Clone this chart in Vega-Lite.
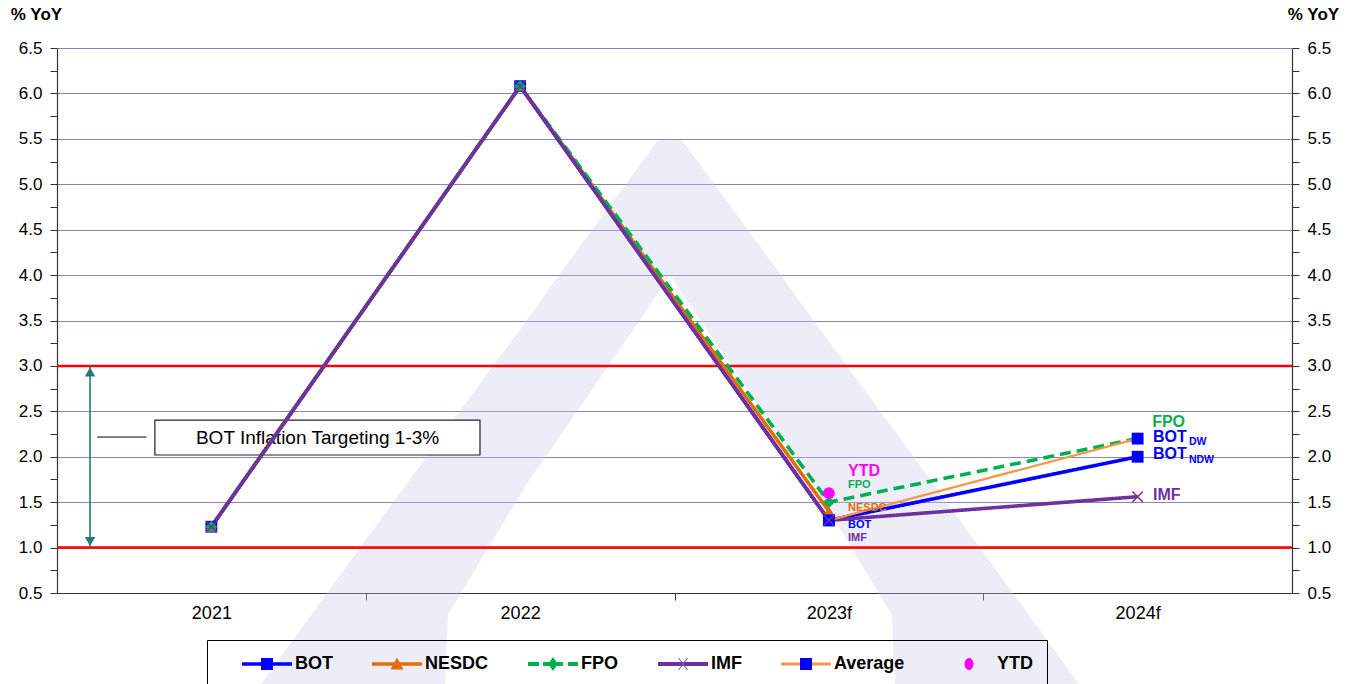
{
  "$schema": "https://vega.github.io/schema/vega-lite/v6.json",
  "width": 1235,
  "height": 545,
  "padding": {"left": 57, "top": 48, "right": 69, "bottom": 91},
  "autosize": {"type": "none"},
  "background": "white",
  "config": {"view": {"stroke": null}, "font": "Liberation Sans"},
  "datasets": {
    "series": [
      {"series": "BOT", "year": 2021, "value": 1.23},
      {"series": "BOT", "year": 2022, "value": 6.08},
      {"series": "BOT", "year": 2023, "value": 1.3},
      {"series": "BOT", "year": 2024, "value": 2.0},
      {"series": "NESDC", "year": 2021, "value": 1.23},
      {"series": "NESDC", "year": 2022, "value": 6.08},
      {"series": "NESDC", "year": 2023, "value": 1.4},
      {"series": "FPO", "year": 2021, "value": 1.23},
      {"series": "FPO", "year": 2022, "value": 6.08},
      {"series": "FPO", "year": 2023, "value": 1.5},
      {"series": "FPO", "year": 2024, "value": 2.2},
      {"series": "IMF", "year": 2021, "value": 1.23},
      {"series": "IMF", "year": 2022, "value": 6.08},
      {"series": "IMF", "year": 2023, "value": 1.3},
      {"series": "IMF", "year": 2024, "value": 1.56},
      {"series": "Average", "year": 2023, "value": 1.3},
      {"series": "Average", "year": 2024, "value": 2.2},
      {"series": "YTD", "year": 2023, "value": 1.6}
    ],
    "targets": [{"level": 1.0}, {"level": 3.0}],
    "arrow": [{"x": 2020.607, "lo": 1.0, "hi": 3.0}],
    "connector": [{"x1": 2020.63, "x2": 2020.79, "y": 2.217}],
    "box": [{"x1": 2020.817, "x2": 2021.87, "y1": 2.019, "y2": 2.404, "xm": 2021.344, "ym": 2.21, "label": "BOT Inflation Targeting 1-3%"}],
    "labs23": [
      {"series": "YTD", "label": "YTD", "year": 2023.062, "value": 1.843},
      {"series": "FPO", "label": "FPO", "year": 2023.062, "value": 1.689},
      {"series": "NESDC", "label": "NESDC", "year": 2023.062, "value": 1.436},
      {"series": "BOT", "label": "BOT", "year": 2023.062, "value": 1.248},
      {"series": "IMF", "label": "IMF", "year": 2023.062, "value": 1.105}
    ],
    "labs24": [
      {"series": "FPO", "label": "FPO", "year": 2024.047, "value": 2.38},
      {"series": "BOT", "label": "BOT", "year": 2024.05, "value": 2.222},
      {"series": "BOT", "label": "BOT", "year": 2024.05, "value": 2.03},
      {"series": "IMF", "label": "IMF", "year": 2024.05, "value": 1.579}
    ],
    "subs24": [
      {"series": "BOT", "label": "DW", "year": 2024.166, "value": 2.162},
      {"series": "BOT", "label": "NDW", "year": 2024.166, "value": 1.964}
    ],
    "wm": [
      {"leg": "L", "v": 5.487, "a": 2022.447, "b": 2022.485},
      {"leg": "L", "v": 4.001, "a": 2022.126, "b": 2022.485},
      {"leg": "L", "v": 3.505, "a": 2022.022, "b": 2022.388},
      {"leg": "L", "v": 2.625, "a": 2021.831, "b": 2022.21},
      {"leg": "L", "v": 1.722, "a": 2021.637, "b": 2022.026},
      {"leg": "L", "v": 0.258, "a": 2021.323, "b": 2021.766},
      {"leg": "L", "v": -0.502, "a": 2021.161, "b": 2021.757},
      {"leg": "R", "v": 5.487, "a": 2022.485, "b": 2022.524},
      {"leg": "R", "v": 4.001, "a": 2022.485, "b": 2022.845},
      {"leg": "R", "v": 3.505, "a": 2022.583, "b": 2022.949},
      {"leg": "R", "v": 2.625, "a": 2022.761, "b": 2023.14},
      {"leg": "R", "v": 1.722, "a": 2022.945, "b": 2023.334},
      {"leg": "R", "v": 0.258, "a": 2023.204, "b": 2023.648},
      {"leg": "R", "v": -0.502, "a": 2023.214, "b": 2023.81}
    ]
  },
  "layer": [
    {
      "data": {"name": "wm"},
      "mark": {"type": "area", "orient": "horizontal", "fill": "#c8c8e6", "opacity": 0.33, "clip": false},
      "encoding": {
        "y": {"field": "v", "type": "quantitative", "scale": {"domain": [0.5, 6.5], "nice": false, "zero": false}, "axis": null},
        "x": {
          "field": "a", "type": "quantitative",
          "scale": {"domain": [2020.5, 2024.5], "nice": false, "zero": false},
          "axis": {
            "orient": "bottom",
            "values": [2021, 2021.5, 2022, 2022.5, 2023, 2023.5, 2024],
            "labelExpr": "datum.value == 2021 ? '2021' : datum.value == 2022 ? '2022' : datum.value == 2023 ? '2023f' : datum.value == 2024 ? '2024f' : ''",
            "labelOverlap": false, "labelFlush": false,
            "tickOpacity": {"condition": {"test": "datum.value % 1 == 0", "value": 0}, "value": 1},
            "tickSize": 7, "tickColor": "#333", "tickWidth": 1,
            "domain": true, "domainColor": "#333", "domainWidth": 1.2,
            "labelFontSize": 18, "labelColor": "#000", "labelPadding": 4, "labelFont": "Liberation Sans",
            "grid": false, "title": null
          }
        },
        "x2": {"field": "b"},
        "detail": {"field": "leg"}
      }
    },
    {
      "data": {"name": "targets"},
      "mark": {"type": "rule", "color": "#ff0000", "strokeWidth": 2.5},
      "encoding": {
        "y": {
          "field": "level", "type": "quantitative",
          "scale": {"domain": [0.5, 6.5], "nice": false, "zero": false},
          "axis": {
            "orient": "left",
            "values": [0.5, 0.75, 1, 1.25, 1.5, 1.75, 2, 2.25, 2.5, 2.75, 3, 3.25, 3.5, 3.75, 4, 4.25, 4.5, 4.75, 5, 5.25, 5.5, 5.75, 6, 6.25, 6.5],
            "labelExpr": "(round(datum.value*4) % 2 == 0) ? format(datum.value, '.1f') : ''",
            "labelOverlap": false,
            "grid": true,
            "gridColor": "#8585b5",
            "gridWidth": 1.2,
            "gridOpacity": {"condition": {"test": "round(datum.value*4) % 2 != 0", "value": 0}, "value": 1},
            "tickSize": 7, "tickColor": "#333", "tickWidth": 1,
            "domainColor": "#333", "domainWidth": 1.2,
            "labelFontSize": 17, "labelColor": "#000", "labelPadding": 8, "labelFont": "Liberation Sans",
            "title": "% YoY", "titleAngle": 0, "titleAlign": "center", "titleBaseline": "middle",
            "titleX": -21, "titleY": -34, "titleFontSize": 17, "titleFontWeight": "bold", "titleColor": "#000", "titleFont": "Liberation Sans"
          }
        }
      }
    },
    {
      "data": {"name": "arrow"},
      "mark": {"type": "rule", "color": "#267a78", "strokeWidth": 1.6},
      "encoding": {
        "x": {"field": "x", "type": "quantitative"},
        "y": {"field": "lo", "type": "quantitative", "scale": {"domain": [0.5, 6.5], "nice": false, "zero": false}, "axis": null},
        "y2": {"field": "hi"}
      }
    },
    {
      "data": {"name": "arrow"},
      "mark": {"type": "point", "shape": "triangle-up", "filled": true, "color": "#267a78", "size": 110, "yOffset": 6, "opacity": 1},
      "encoding": {
        "x": {"field": "x", "type": "quantitative"},
        "y": {"field": "hi", "type": "quantitative", "axis": null}
      }
    },
    {
      "data": {"name": "arrow"},
      "mark": {"type": "point", "shape": "triangle-down", "filled": true, "color": "#267a78", "size": 110, "yOffset": -6, "opacity": 1},
      "encoding": {
        "x": {"field": "x", "type": "quantitative"},
        "y": {"field": "lo", "type": "quantitative", "axis": null}
      }
    },
    {
      "data": {"name": "connector"},
      "mark": {"type": "rule", "color": "#000", "strokeWidth": 1},
      "encoding": {
        "x": {"field": "x1", "type": "quantitative"},
        "x2": {"field": "x2"},
        "y": {"field": "y", "type": "quantitative", "axis": null}
      }
    },
    {
      "data": {"name": "box"},
      "mark": {"type": "rect", "fill": "#ffffff", "stroke": "#222", "strokeWidth": 1.2},
      "encoding": {
        "x": {"field": "x1", "type": "quantitative"},
        "x2": {"field": "x2"},
        "y": {"field": "y1", "type": "quantitative", "axis": null},
        "y2": {"field": "y2"}
      }
    },
    {
      "data": {"name": "box"},
      "mark": {"type": "text", "fontSize": 19, "color": "#000", "align": "center", "baseline": "middle", "font": "Liberation Sans"},
      "encoding": {
        "x": {"field": "xm", "type": "quantitative"},
        "y": {"field": "ym", "type": "quantitative", "axis": null},
        "text": {"field": "label"}
      }
    },
    {
      "data": {"name": "series"},
      "transform": [{"filter": {"field": "series", "oneOf": ["BOT", "NESDC", "FPO", "IMF"]}}],
      "mark": {"type": "line", "strokeWidth": 3.6},
      "encoding": {
        "x": {"field": "year", "type": "quantitative"},
        "y": {
          "field": "value", "type": "quantitative",
          "scale": {"domain": [0.5, 6.5], "nice": false, "zero": false},
          "axis": {
            "orient": "right",
            "values": [0.5, 0.75, 1, 1.25, 1.5, 1.75, 2, 2.25, 2.5, 2.75, 3, 3.25, 3.5, 3.75, 4, 4.25, 4.5, 4.75, 5, 5.25, 5.5, 5.75, 6, 6.25, 6.5],
            "labelExpr": "(round(datum.value*4) % 2 == 0) ? format(datum.value, '.1f') : ''",
            "labelOverlap": false,
            "grid": false,
            "tickSize": 7, "tickColor": "#333", "tickWidth": 1,
            "domainColor": "#333", "domainWidth": 1.2,
            "labelFontSize": 17, "labelColor": "#000", "labelPadding": 8, "labelFont": "Liberation Sans",
            "title": "% YoY", "titleAngle": 0, "titleAlign": "center", "titleBaseline": "middle",
            "titleX": 21, "titleY": -34, "titleFontSize": 17, "titleFontWeight": "bold", "titleColor": "#000", "titleFont": "Liberation Sans"
          }
        },
        "color": {
          "field": "series", "type": "nominal", "legend": null,
          "scale": {"domain": ["BOT", "NESDC", "FPO", "IMF", "Average", "YTD"], "range": ["#0000ff", "#e36c0a", "#00b050", "#7030a0", "#f79646", "#ff00ff"]}
        },
        "strokeDash": {
          "field": "series", "type": "nominal", "legend": null,
          "scale": {"domain": ["BOT", "NESDC", "FPO", "IMF"], "range": [[1, 0], [1, 0], [11, 6], [1, 0]]}
        }
      }
    },
    {
      "data": {"name": "series"},
      "transform": [{"filter": {"field": "series", "equal": "Average"}}],
      "mark": {"type": "line", "strokeWidth": 2.2},
      "encoding": {
        "x": {"field": "year", "type": "quantitative"},
        "y": {"field": "value", "type": "quantitative", "axis": null},
        "color": {
          "field": "series", "type": "nominal", "legend": null,
          "scale": {"domain": ["BOT", "NESDC", "FPO", "IMF", "Average", "YTD"], "range": ["#0000ff", "#e36c0a", "#00b050", "#7030a0", "#f79646", "#ff00ff"]}
        }
      }
    },
    {
      "data": {"name": "series"},
      "transform": [{"filter": {"field": "series", "oneOf": ["BOT", "NESDC", "FPO", "Average", "YTD"]}}],
      "mark": {"type": "point", "filled": true, "size": 140, "opacity": 1, "strokeWidth": 0},
      "encoding": {
        "x": {"field": "year", "type": "quantitative"},
        "y": {"field": "value", "type": "quantitative", "axis": null},
        "fill": {
          "field": "series", "type": "nominal", "legend": null,
          "scale": {"domain": ["BOT", "NESDC", "FPO", "Average", "YTD"], "range": ["#0000ff", "#e36c0a", "#00b050", "#0000ff", "#ff00ff"]}
        },
        "shape": {
          "field": "series", "type": "nominal", "legend": null,
          "scale": {"domain": ["BOT", "NESDC", "FPO", "Average", "YTD"], "range": ["square", "triangle-up", "diamond", "square", "circle"]}
        }
      }
    },
    {
      "data": {"name": "series"},
      "transform": [{"filter": {"field": "series", "equal": "IMF"}}],
      "mark": {"type": "point", "shape": "M-1,-1L1,1M-1,1L1,-1", "filled": false, "stroke": "#7030a0", "strokeWidth": 1.5, "size": 110, "opacity": 1},
      "encoding": {
        "x": {"field": "year", "type": "quantitative"},
        "y": {"field": "value", "type": "quantitative", "axis": null}
      }
    },
    {
      "data": {"name": "labs23"},
      "transform": [{"filter": {"field": "label", "equal": "YTD"}}],
      "mark": {"type": "text", "fontSize": 16, "fontWeight": "bold", "align": "left", "baseline": "middle", "font": "Liberation Sans"},
      "encoding": {
        "x": {"field": "year", "type": "quantitative"},
        "y": {"field": "value", "type": "quantitative", "axis": null},
        "text": {"field": "label"},
        "color": {
          "field": "series", "type": "nominal", "legend": null,
          "scale": {"domain": ["BOT", "NESDC", "FPO", "IMF", "Average", "YTD"], "range": ["#0000ff", "#e36c0a", "#00b050", "#7030a0", "#f79646", "#ff00ff"]}
        }
      }
    },
    {
      "data": {"name": "labs23"},
      "transform": [{"filter": "datum.label != 'YTD'"}],
      "mark": {"type": "text", "fontSize": 11, "fontWeight": "bold", "align": "left", "baseline": "middle", "font": "Liberation Sans"},
      "encoding": {
        "x": {"field": "year", "type": "quantitative"},
        "y": {"field": "value", "type": "quantitative", "axis": null},
        "text": {"field": "label"},
        "color": {
          "field": "series", "type": "nominal", "legend": null,
          "scale": {"domain": ["BOT", "NESDC", "FPO", "IMF", "Average", "YTD"], "range": ["#0000ff", "#e36c0a", "#00b050", "#7030a0", "#f79646", "#ff00ff"]}
        }
      }
    },
    {
      "data": {"name": "labs24"},
      "mark": {"type": "text", "fontSize": 16, "fontWeight": "bold", "align": "left", "baseline": "middle", "font": "Liberation Sans"},
      "encoding": {
        "x": {"field": "year", "type": "quantitative"},
        "y": {"field": "value", "type": "quantitative", "axis": null},
        "text": {"field": "label"},
        "color": {
          "field": "series", "type": "nominal", "legend": null,
          "scale": {"domain": ["BOT", "NESDC", "FPO", "IMF", "Average", "YTD"], "range": ["#0000ff", "#e36c0a", "#00b050", "#7030a0", "#f79646", "#ff00ff"]}
        }
      }
    },
    {
      "data": {"name": "subs24"},
      "mark": {"type": "text", "fontSize": 10.5, "fontWeight": "bold", "align": "left", "baseline": "middle", "font": "Liberation Sans"},
      "encoding": {
        "x": {"field": "year", "type": "quantitative"},
        "y": {"field": "value", "type": "quantitative", "axis": null},
        "text": {"field": "label"},
        "color": {
          "field": "series", "type": "nominal", "legend": null,
          "scale": {"domain": ["BOT", "NESDC", "FPO", "IMF", "Average", "YTD"], "range": ["#0000ff", "#e36c0a", "#00b050", "#7030a0", "#f79646", "#ff00ff"]}
        }
      }
    },
    {
      "data": {"name": "series"},
      "mark": {"type": "point", "filled": true, "opacity": 0},
      "encoding": {
        "x": {"field": "year", "type": "quantitative"},
        "y": {"field": "value", "type": "quantitative", "axis": null},
        "fill": {
          "field": "series", "type": "nominal",
          "scale": {"domain": ["BOT", "NESDC", "FPO", "IMF", "Average", "YTD"], "range": ["#0000ff", "#e36c0a", "#00b050", "#7030a0", "#f79646", "transparent"]},
          "legend": {
            "title": " ", "titleOrient": "left", "titlePadding": 21, "titleFontSize": 18, "titleFontWeight": "bold",
            "orient": "none", "legendX": 150, "legendY": 592, "direction": "horizontal", "columns": 6,
            "padding": 14, "strokeColor": "#000", "symbolSize": 400, "symbolStrokeWidth": 0, "symbolOpacity": 1,
            "labelFont": "Liberation Sans", "labelFontSize": 18, "labelFontWeight": "bold", "labelColor": "#000",
            "labelOffset": 33, "columnPadding": 39, "rowPadding": 0, "labelLimit": 300
          }
        },
        "shape": {
          "field": "series", "type": "nominal",
          "scale": {"domain": ["BOT", "NESDC", "FPO", "IMF", "Average", "YTD"], "range": [
            "M-1,-0.175H4V0.175H-1Z",
            "M-1,-0.175H4V0.175H-1Z",
            "M-1,-0.2H0.1V0.2H-1Z M0.5,-0.2H1.1V0.2H0.5Z M1.9,-0.2H2.5V0.2H1.9Z M3,-0.2H4V0.2H3Z",
            "M-1,-0.2H4V0.2H-1Z",
            "M-1,-0.14H4V0.14H-1Z",
            "M1.5,0H1.51V0.01H1.5Z"
          ]},
          "legend": {
            "title": " ", "titleOrient": "left", "titlePadding": 21, "titleFontSize": 18, "titleFontWeight": "bold",
            "orient": "none", "legendX": 150, "legendY": 592, "direction": "horizontal", "columns": 6,
            "padding": 14, "strokeColor": "#000", "symbolSize": 400, "symbolStrokeWidth": 0, "symbolOpacity": 1,
            "labelFont": "Liberation Sans", "labelFontSize": 18, "labelFontWeight": "bold", "labelColor": "#000",
            "labelOffset": 33, "columnPadding": 39, "rowPadding": 0, "labelLimit": 300
          }
        }
      }
    },
    {
      "data": {"name": "series"},
      "mark": {"type": "point", "filled": true, "opacity": 0},
      "encoding": {
        "x": {"field": "year", "type": "quantitative"},
        "y": {"field": "value", "type": "quantitative", "axis": null},
        "fill": {
          "field": "series", "type": "nominal",
          "scale": {"domain": ["BOT", "NESDC", "FPO", "IMF", "Average", "YTD"], "range": ["#0000ff", "#e36c0a", "#00b050", "#8064a2", "#0000ff", "#ff00ff"]},
          "legend": {
            "title": null, "orient": "none", "legendX": 171, "legendY": 592, "direction": "horizontal", "columns": 6,
            "padding": 14, "symbolSize": 400, "symbolStrokeWidth": 0, "symbolOpacity": 1,
            "labelFont": "Liberation Sans", "labelFontSize": 18, "labelFontWeight": "bold", "labelColor": "#000", "labelOpacity": 0,
            "labelOffset": 33, "columnPadding": 39, "rowPadding": 0, "labelLimit": 300
          }
        },
        "shape": {
          "field": "series", "type": "nominal",
          "scale": {"domain": ["BOT", "NESDC", "FPO", "IMF", "Average", "YTD"], "range": [
            "M0.9,-0.6H2.1V0.6H0.9Z",
            "M1.5,-0.65L2.15,0.55H0.85Z",
            "M1.5,-0.7L2.0,0L1.5,0.7L1.0,0Z",
            "M1.0,-0.6L1.12,-0.6L2.0,0.6L1.88,0.6Z M1.88,-0.6L2.0,-0.6L1.12,0.6L1.0,0.6Z",
            "M0.9,-0.6H2.1V0.6H0.9Z",
            "M1.05,0A0.45,0.6 0 1,0 1.95,0A0.45,0.6 0 1,0 1.05,0Z"
          ]},
          "legend": {
            "title": null, "orient": "none", "legendX": 171, "legendY": 592, "direction": "horizontal", "columns": 6,
            "padding": 14, "symbolSize": 400, "symbolStrokeWidth": 0, "symbolOpacity": 1,
            "labelFont": "Liberation Sans", "labelFontSize": 18, "labelFontWeight": "bold", "labelColor": "#000", "labelOpacity": 0,
            "labelOffset": 33, "columnPadding": 39, "rowPadding": 0, "labelLimit": 300
          }
        }
      }
    }
  ],
  "resolve": {
    "scale": {"fill": "independent", "shape": "independent"},
    "axis": {"y": "independent"},
    "legend": {"fill": "independent", "shape": "independent"}
  }
}
